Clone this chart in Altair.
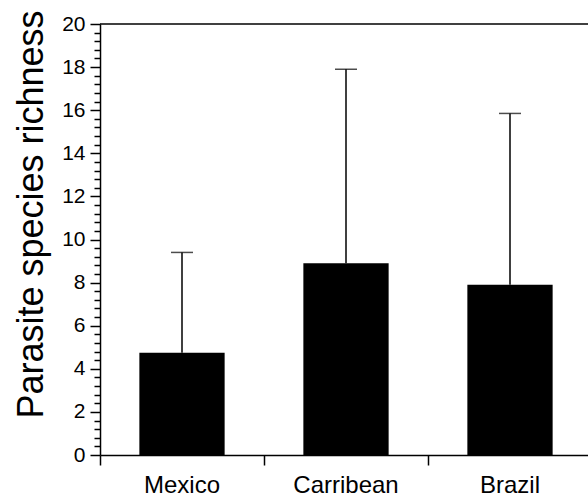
import altair as alt
import pandas as pd

regions = ["Mexico", "Carribean", "Brazil"]
means = [4.75, 8.9, 7.9]
upper = [9.4, 17.9, 15.85]

major_ticks = [0, 2, 4, 6, 8, 10, 12, 14, 16, 18, 20]
minor_step = 0.4
all_ticks = [round(i * minor_step, 6) for i in range(int(20 / minor_step) + 1)]

df = pd.DataFrame({"region": regions, "mean": means, "upper": upper})

FONT = "Liberation Sans"
W, H = 488, 431

x_enc = alt.X(
    "region:N",
    sort=regions,
    scale=alt.Scale(paddingInner=0, paddingOuter=0, range=[0, 492]),
    axis=alt.Axis(
        title=None,
        labelAngle=0,
        labelFont=FONT,
        labelFontSize=24,
        labelColor="black",
        labelPadding=8,
        bandPosition=0,
        tickSize=10,
        tickWidth=1.5,
        tickColor="black",
        domainColor="black",
        domainWidth=1.5,
        grid=False,
    ),
)

y_scale = alt.Scale(domain=[0, 20], nice=False)

test = "abs(datum.value - round(datum.value / 2) * 2) < 0.001"

bars = alt.Chart(df).mark_bar(color="black", width=alt.RelativeBandSize(0.52)).encode(
    x=x_enc,
    y=alt.Y(
        "mean:Q",
        scale=y_scale,
        axis=alt.Axis(
            title="Parasite species richness",
            titleFont=FONT,
            titleFontSize=36,
            titleFontWeight="normal",
            titleColor="black",
            titleAngle=-90,
            titleAlign="center",
            titleBaseline="bottom",
            titleX=-50,
            titleY=190,
            values=all_ticks,
            tickCount=100,
            labelExpr=f"{test} ? format(datum.value, 'd') : ''",
            labelOverlap=False,
            labelFlush=False,
            labelFont=FONT,
            labelFontSize=21,
            labelColor="black",
            labelPadding=5,
            tickSize={"condition": {"test": test, "value": 10}, "value": 6},
            tickWidth=1.5,
            tickColor="black",
            domainColor="black",
            domainWidth=1.5,
            grid=False,
        ),
    ),
)

err = alt.Chart(df).mark_rule(color="black", strokeWidth=1.5).encode(
    x=alt.X("region:N", sort=regions),
    y=alt.Y("mean:Q", scale=y_scale),
    y2="upper:Q",
)

caps = alt.Chart(df).mark_tick(color="black", size=22, thickness=1.5, orient="horizontal").encode(
    x=alt.X("region:N", sort=regions),
    y=alt.Y("upper:Q", scale=y_scale),
)

top = alt.Chart(pd.DataFrame({"v": [20]})).mark_rule(color="black", strokeWidth=1.5).encode(
    y=alt.Y("v:Q", scale=y_scale),
    x=alt.value(0),
    x2=alt.value(492),
)

chart = (
    alt.layer(bars, err, caps, top)
    .properties(
        width=W,
        height=H,
        autosize=alt.AutoSizeParams(type="none"),
        padding={"left": 100, "top": 24, "right": 0, "bottom": 44},
        background="white",
    )
    .configure_view(stroke=None)
)

chart.save("out.html", embed_options={"renderer": "svg", "actions": False})
